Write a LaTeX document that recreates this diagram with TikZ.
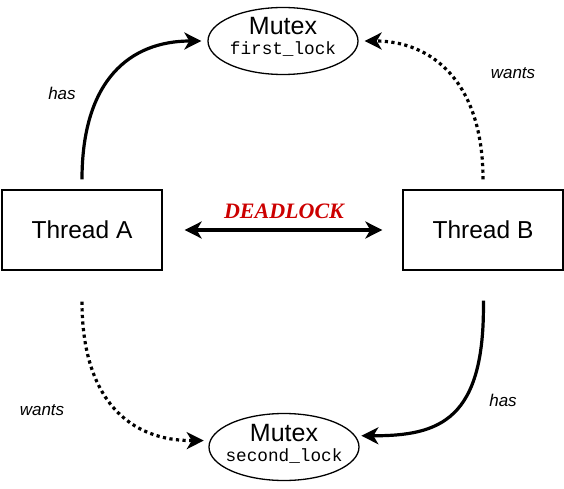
\documentclass[tikz,border=0pt]{standalone}
\usepackage{fontspec}
\setmainfont{Liberation Sans}
\setmonofont{Liberation Mono}
\newfontfamily\serifbi{Liberation Serif}
\usetikzlibrary{arrows.meta,shapes.geometric}
\definecolor{dlred}{RGB}{204,0,0}
\tikzset{
  threadbox/.style={draw, line width=1.3pt, minimum width=160pt, minimum height=80pt, inner sep=0pt,
    font=\fontsize{24.5}{28}\selectfont},
  mutex/.style={draw, ellipse, line width=1.3pt, minimum width=150pt, minimum height=67pt, inner sep=0pt},
  mutextitle/.style={anchor=base, inner sep=0pt, font=\fontsize{25}{28}\selectfont},
  locktxt/.style={anchor=base, inner sep=0pt, font=\fontsize{17.7}{20}\selectfont\ttfamily},
  tipstyle/.style={-{Stealth[length=17pt,width=17pt,inset=5pt]}},
  hasedge/.style={tipstyle, line width=3.2pt},
  wantsedge/.style={tipstyle, line width=3.2pt, dash pattern=on 3.2pt off 3.4pt},
  lbl/.style={font=\fontsize{17}{20}\selectfont\itshape, inner sep=0pt}
}
\begin{document}
\begin{tikzpicture}[x=1pt,y=-1pt]
\useasboundingbox (0,0) rectangle (564,489);
\node[threadbox] (ta) at (82,230) {Thread A};
\node[threadbox] (tb) at (483,230) {Thread B};
\node[mutex] (m1) at (283,41) {};
\node[mutextitle] (m1t) at (283,35) {Mutex};
\node[locktxt] (m1l) at (283,55) {first\_lock};
\node[mutex] (m2) at (284,447) {};
\node[mutextitle] (m2t) at (284,441) {Mutex};
\node[locktxt] (m2l) at (284,461) {second\_lock};
\node[font=\fontsize{22}{24}\selectfont\serifbi\bfseries\itshape, text=dlred, inner sep=0pt] (dl) at (284,211) {DEADLOCK};
\draw[{Stealth[length=17pt,width=17pt,inset=5pt]}-{Stealth[length=17pt,width=17pt,inset=5pt]}, line width=3.2pt,
  shorten <=22pt, shorten >=20pt] (ta.east) -- (tb.west);
% Thread A has first_lock
\draw[hasedge, shorten <=10pt, shorten >=6pt] (ta.north) .. controls (82,80) and (130,41) .. (m1.west);
% Thread B wants first_lock
\draw[wantsedge, shorten <=10pt, shorten >=6pt] (tb.north) .. controls (483,80) and (430,41) .. (m1.east);
% Thread A wants second_lock
\draw[wantsedge, shorten <=31pt, shorten >=6pt] (ta.south) .. controls (82,400) and (130,441) .. (m2.175);
% Thread B has second_lock
\draw[hasedge, shorten <=30pt, shorten >=6pt] (tb.south) .. controls (485,420) and (440,436) .. (m2.9);
\node[lbl] (l1) at (62,93) {has};
\node[lbl] (l2) at (513,73) {wants};
\node[lbl] (l3) at (42,410) {wants};
\node[lbl] (l4) at (503,400) {has};
\end{tikzpicture}
\end{document}
